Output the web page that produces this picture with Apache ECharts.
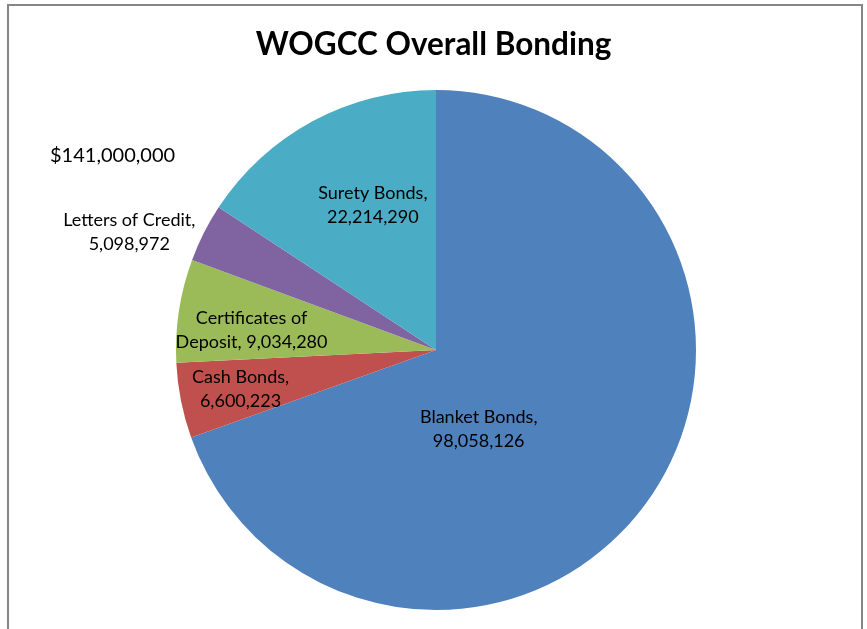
<!DOCTYPE html>
<html>
<head>
<meta charset="utf-8">
<script src="https://cdn.jsdelivr.net/npm/echarts@6/dist/echarts.min.js"></script>
<style>
html,body{margin:0;padding:0;background:#fff;}
#chart{width:867px;height:629px;}
</style>
</head>
<body>
<div id="chart"></div>
<script>
var categories = ['Blanket Bonds', 'Cash Bonds', 'Certificates of Deposit', 'Letters of Credit', 'Surety Bonds'];
var values = [98058126, 6600223, 9034280, 5098972, 22214290];
var colors = ['#4F81BD', '#C0504D', '#9BBB59', '#8064A2', '#4BACC6'];
var labelText = [
  'Blanket Bonds,\n98,058,126',
  'Cash Bonds,\n6,600,223',
  'Certificates of\nDeposit, 9,034,280',
  'Letters of Credit,\n5,098,972',
  'Surety Bonds,\n22,214,290'
];
var labelShift = [[-66, 3], [-65, 13], [-53, 0], [-188, -58], [0, -28]];
var titleText = 'WOGCC Overall Bonding';
var totalText = '$141,000,000';

var chart = echarts.init(document.getElementById('chart'));
var data = categories.map(function (c, i) {
  return { name: c, value: values[i], itemStyle: { color: colors[i] } };
});
chart.setOption({
  animation: false,
  backgroundColor: '#fff',
  title: [{
    text: titleText,
    left: 'center',
    top: 24,
    textStyle: { fontFamily: 'Lato', fontWeight: 'bold', fontSize: 31.5, color: '#000' }
  }, {
    text: totalText,
    left: 45,
    top: 141,
    textStyle: { fontFamily: 'Lato', fontWeight: 'normal', fontSize: 20, color: '#000' }
  }],
  graphic: [{
    type: 'rect',
    shape: { x: 8, y: 5, width: 854, height: 640 },
    style: { fill: 'none', stroke: '#868686', lineWidth: 2 },
    silent: true
  }],
  series: [{
    type: 'pie',
    center: [436, 350],
    radius: [0, 260],
    startAngle: 90,
    clockwise: true,
    data: data,
    itemStyle: { borderWidth: 0 },
    label: {
      show: true,
      position: 'inside',
      formatter: function (p) { return labelText[p.dataIndex]; },
      fontFamily: 'Lato',
      fontSize: 18,
      lineHeight: 24,
      color: '#000',
      align: 'center'
    },
    labelLine: { show: false },
    labelLayout: function (p) {
      return { dx: labelShift[p.dataIndex][0], dy: labelShift[p.dataIndex][1] };
    },
    emphasis: { disabled: true }
  }]
});
</script>
</body>
</html>
